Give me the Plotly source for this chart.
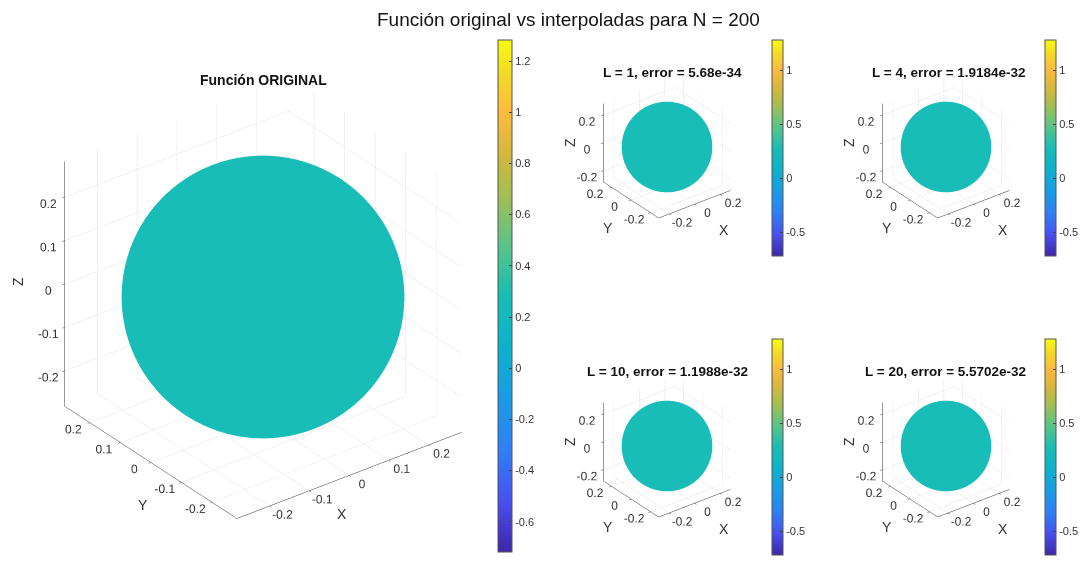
import numpy as np
import plotly.graph_objects as go

W, H = 1088, 562

# ---- data ----
f_value = 0.2821            # Y00 = 1/(2*sqrt(pi)), constant function value
clim = [f_value - 1.0, f_value + 1.0]
L_values = [1, 4, 10, 20]
errors = ["5.68e-34", "1.9184e-32", "1.1988e-32", "5.5702e-32"]
main_title = "Función original vs interpoladas para N = 200"
orig_title = "Función ORIGINAL"
main_ticks = [-0.6, -0.4, -0.2, 0, 0.2, 0.4, 0.6, 0.8, 1.0, 1.2]
main_ticklabels = ["-0.6", "-0.4", "-0.2", "0", "0.2", "0.4", "0.6", "0.8", "1", "1.2"]
small_ticks = [-0.5, 0, 0.5, 1]
small_ticklabels = ["-0.5", "0", "0.5", "1"]
main_axis_ticks = [-0.2, -0.1, 0, 0.1, 0.2]
main_axis_labels = ["-0.2", "-0.1", "0", "0.1", "0.2"]
small_axis_ticks = [-0.2, 0, 0.2]
small_axis_labels = ["-0.2", "0", "0.2"]

parula = [
    [0.00, "rgb(62,38,168)"],
    [0.10, "rgb(71,81,240)"],
    [0.20, "rgb(46,128,246)"],
    [0.30, "rgb(25,156,230)"],
    [0.40, "rgb(12,178,205)"],
    [0.50, "rgb(23,189,181)"],
    [0.60, "rgb(90,196,135)"],
    [0.70, "rgb(165,190,80)"],
    [0.78, "rgb(215,183,60)"],
    [0.86, "rgb(252,187,61)"],
    [0.93, "rgb(245,215,40)"],
    [1.00, "rgb(249,251,14)"],
]

FONT = "Liberation Sans, Arial"

# sphere of radius |f|
th = np.linspace(0, np.pi, 90)
ph = np.linspace(0, 2 * np.pi, 180)
r = abs(f_value)
X = r * np.outer(np.sin(th), np.cos(ph))
Y = r * np.outer(np.sin(th), np.sin(ph))
Z = r * np.outer(np.cos(th), np.ones_like(ph))
C = np.full_like(X, f_value)

fig = go.Figure()

# panel geometry in pixels
scenes = [
    dict(center=(263, 297), size=(500, 478), k=1.183, cb=(498, 296, 512, 14), big=True),
    dict(center=(667, 147), size=(230, 200), k=0.906, cb=(772, 148, 216, 11), big=False),
    dict(center=(946, 147), size=(230, 200), k=0.906, cb=(1045, 148, 216, 11), big=False),
    dict(center=(667, 446), size=(230, 200), k=0.906, cb=(772, 447, 216, 11), big=False),
    dict(center=(946, 446), size=(230, 200), k=0.906, cb=(1045, 447, 216, 11), big=False),
]

d = np.array([np.cos(np.radians(30)) * np.sin(np.radians(-37.5)),
              -np.cos(np.radians(30)) * np.cos(np.radians(-37.5)),
              np.sin(np.radians(30))])

for i, s in enumerate(scenes):
    sid = "scene" if i == 0 else f"scene{i+1}"
    cid = "coloraxis" if i == 0 else f"coloraxis{i+1}"
    fig.add_trace(go.Surface(
        x=X, y=Y, z=Z, surfacecolor=C, coloraxis=cid, scene=sid,
        lighting=dict(ambient=1, diffuse=0, specular=0, fresnel=0, roughness=1),
        hoverinfo="skip",
        contours=dict(x=dict(highlight=False), y=dict(highlight=False), z=dict(highlight=False)),
    ))
    cxp, cyp = s["center"]
    sw, sh = s["size"]
    x0, x1, y0, y1 = cxp - sw / 2, cxp + sw / 2, cyp - sh / 2, cyp + sh / 2
    tv = main_axis_ticks if s["big"] else small_axis_ticks
    tt = main_axis_labels if s["big"] else small_axis_labels
    ax = dict(range=[-r, r], tickvals=tv, ticktext=tt, showgrid=True,
              gridcolor="#e3e3e3", gridwidth=1, zeroline=False, showbackground=False,
              showline=True, linecolor="#333333", linewidth=1, ticks="outside", ticklen=3,
              tickcolor="#333333", tickangle=0,
              tickfont=dict(family=FONT, size=12, color="#333333"),
              showspikes=False, autorange=False, title=dict(text=""))
    eye = d * 2.0
    k = s["k"]
    fig.update_layout(**{sid: dict(
        domain=dict(x=[x0 / W, x1 / W], y=[1 - y1 / H, 1 - y0 / H]),
        xaxis=ax, yaxis=ax, zaxis=ax,
        aspectmode="manual", aspectratio=dict(x=k, y=k, z=k),
        camera=dict(eye=dict(x=eye[0], y=eye[1], z=eye[2]), up=dict(x=0, y=0, z=1),
                    center=dict(x=0, y=0, z=0), projection=dict(type="orthographic")),
        bgcolor="rgba(0,0,0,0)",
    )})
    cx, cyc, clen, cth = s["cb"]
    fig.update_layout(**{cid: dict(
        cmin=clim[0], cmax=clim[1], colorscale=parula,
        colorbar=dict(x=cx / W, xanchor="left", y=1 - cyc / H, yanchor="middle",
                      len=clen, lenmode="pixels", thickness=cth, thicknessmode="pixels",
                      xpad=0, ypad=0, outlinewidth=1, outlinecolor="#555555",
                      tickvals=main_ticks if s["big"] else small_ticks,
                      ticktext=main_ticklabels if s["big"] else small_ticklabels,
                      ticks="inside", ticklen=3, tickcolor="#444444",
                      tickfont=dict(family=FONT, size=11, color="#333333")),
    )})

# axis titles (paper annotations), offsets relative to sphere centre
axis_title_offsets_big = {"X": (79, 217), "Y": (-120, 208), "Z": (-245, -15)}
axis_title_offsets_small = {"X": (57, 83), "Y": (-59, 81), "Z": (-97, -4)}
for i, s in enumerate(scenes):
    cxp, cyp = s["center"]
    offs = axis_title_offsets_big if s["big"] else axis_title_offsets_small
    for lab, (dx, dy) in offs.items():
        fig.add_annotation(text=lab, x=(cxp + dx) / W, y=1 - (cyp + dy) / H,
                           xref="paper", yref="paper", showarrow=False,
                           xanchor="center", yanchor="middle",
                           textangle=-90 if lab == "Z" else 0,
                           font=dict(family=FONT, size=14, color="#333333"))

titles = [orig_title] + [f"L = {L}, error = {e}" for L, e in zip(L_values, errors)]
title_pos = [(263, 80), (672, 73), (949, 72), (667, 371), (945, 371)]
title_sizes = [14, 13.5, 13.5, 13.5, 13.5]
for t, (tx, ty), fsz in zip(titles, title_pos, title_sizes):
    fig.add_annotation(text=f"<b>{t}</b>", x=tx / W, y=1 - ty / H, xref="paper", yref="paper",
                       showarrow=False, xanchor="center", yanchor="middle",
                       font=dict(family=FONT, size=fsz, color="#111111"))
fig.add_annotation(text=main_title, x=568 / W, y=1 - 20 / H, xref="paper", yref="paper",
                   showarrow=False, xanchor="center", yanchor="middle",
                   font=dict(family=FONT, size=19, color="#111111"))

fig.update_layout(width=W, height=H, margin=dict(l=0, r=0, t=0, b=0),
                  paper_bgcolor="white", plot_bgcolor="white", showlegend=False)
fig.write_html("out.html", config={"displayModeBar": False},
               post_script="document.body.style.margin='0';")
